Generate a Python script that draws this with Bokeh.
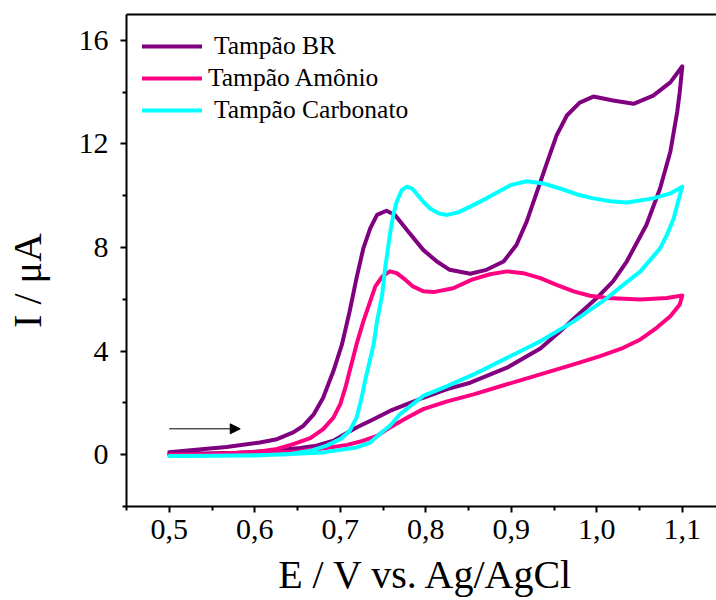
from bokeh.plotting import figure
from bokeh.models import (Range1d, FixedTicker, LinearAxis, Arrow, NormalHead,
                          Legend, LegendItem)
from bokeh.embed import file_html
from bokeh.resources import INLINE

FONT = "Liberation Serif"
NB = "\u00a0"

# ---------------- data ----------------
series_names = [" Tampão BR", "Tampão Amônio", " Tampão Carbonato"]
series_colors = ["#800080", "#FF0080", "#00FFFF"]

br_E = [0.500, 0.528, 0.567, 0.606, 0.626, 0.645, 0.657, 0.669, 0.680, 0.686, 0.692, 0.702,
        0.711, 0.719, 0.727, 0.735, 0.743, 0.754, 0.764, 0.778, 0.797, 0.813, 0.828, 0.852,
        0.871, 0.891, 0.906, 0.918, 0.930, 0.942, 0.953, 0.965, 0.980, 0.996, 1.019, 1.043,
        1.066, 1.086, 1.100,
        1.097, 1.094, 1.086, 1.074, 1.058, 1.035, 1.019, 1.000, 0.973, 0.960, 0.934, 0.895,
        0.852, 0.825, 0.797, 0.778, 0.758, 0.739, 0.719, 0.704, 0.692, 0.672, 0.653, 0.620,
        0.580, 0.500]
br_I = [0.10, 0.18, 0.30, 0.47, 0.60, 0.86, 1.12, 1.56, 2.20, 2.72, 3.23, 4.26,
        5.54, 6.82, 7.97, 8.74, 9.26, 9.42, 9.26, 8.68, 7.91, 7.46, 7.14, 6.99,
        7.14, 7.46, 8.10, 9.00, 10.15, 11.30, 12.33, 13.10, 13.60, 13.83, 13.68, 13.55,
        13.87, 14.38, 15.00,
        14.00, 13.23, 11.70, 10.28, 8.87, 7.46, 6.69, 6.05, 5.25, 4.85, 4.10, 3.36,
        2.78, 2.53, 2.20, 1.95, 1.69, 1.37, 1.05, 0.77, 0.54, 0.35, 0.26, 0.15,
        0.08, 0.02]

am_E = [0.500, 0.550, 0.600, 0.626, 0.645, 0.665, 0.680, 0.692, 0.700, 0.706, 0.711, 0.719,
        0.727, 0.735, 0.741, 0.749, 0.758, 0.766, 0.776, 0.785, 0.797, 0.809, 0.832, 0.854,
        0.875, 0.895, 0.914, 0.934, 0.953, 0.973, 0.992, 1.012, 1.051, 1.082, 1.100,
        1.097, 1.086, 1.070, 1.051, 1.031, 1.004, 0.973, 0.934, 0.895, 0.856, 0.825, 0.797,
        0.778, 0.758, 0.743, 0.727, 0.708, 0.688, 0.650, 0.600, 0.500]
am_I = [0.00, 0.03, 0.10, 0.22, 0.41, 0.64, 0.99, 1.43, 1.95, 2.59, 3.23, 4.26,
        5.15, 5.92, 6.50, 6.88, 7.08, 7.01, 6.76, 6.50, 6.31, 6.28, 6.43, 6.76,
        6.97, 7.08, 7.01, 6.82, 6.56, 6.31, 6.14, 6.05, 5.99, 6.05, 6.15,
        5.80, 5.35, 4.90, 4.45, 4.13, 3.81, 3.49, 3.10, 2.72, 2.33, 2.06, 1.76,
        1.43, 1.05, 0.73, 0.54, 0.38, 0.28, 0.12, 0.04, 0.00]

ca_E = [0.500, 0.550, 0.600, 0.640, 0.665, 0.684, 0.700, 0.711, 0.719, 0.725, 0.729, 0.739,
        0.743, 0.749, 0.752, 0.758, 0.762, 0.766, 0.772, 0.778, 0.784, 0.789, 0.797, 0.805,
        0.815, 0.825, 0.838, 0.852, 0.871, 0.899, 0.918, 0.938, 0.957, 0.977, 0.996, 1.016,
        1.035, 1.066, 1.086, 1.100,
        1.095, 1.090, 1.082, 1.074, 1.051, 1.031, 1.012, 0.973, 0.934, 0.895, 0.856, 0.825,
        0.797, 0.782, 0.770, 0.758, 0.748, 0.735, 0.719, 0.680, 0.600, 0.500]
ca_I = [-0.05, -0.04, -0.02, 0.02, 0.15, 0.35, 0.60, 0.92, 1.43, 2.20, 2.85, 4.26,
        5.15, 6.18, 7.08, 8.49, 9.26, 9.77, 10.22, 10.35, 10.28, 10.09, 9.77, 9.51,
        9.32, 9.26, 9.36, 9.58, 9.90, 10.41, 10.56, 10.47, 10.28, 10.05, 9.90, 9.79,
        9.74, 9.90, 10.09, 10.35,
        9.77, 9.13, 8.49, 7.97, 7.08, 6.56, 6.05, 5.15, 4.38, 3.74, 3.10, 2.65,
        2.27, 1.88, 1.57, 1.12, 0.85, 0.47, 0.28, 0.09, -0.03, -0.05]

x_ticks = [0.5, 0.6, 0.7, 0.8, 0.9, 1.0, 1.1]
x_tick_labels = ["0,5", "0,6", "0,7", "0,8", "0,9", "1,0", "1,1"]
x_minor = [0.45, 0.55, 0.65, 0.75, 0.85, 0.95, 1.05]
y_ticks = [0, 4, 8, 12, 16]
y_tick_labels = ["0", "4", "8", "12", "16"]
y_minor = [-2, 2, 6, 10, 14]

x_title = NB + "E / V vs. Ag/AgCl"
y_title = "I / μA" + NB * 4

arrow_E = [0.5, 0.583]
arrow_I = 1.0

# ---------------- figure ----------------
p = figure(width=716, height=600, output_backend="svg", toolbar_location=None,
           x_range=Range1d(0.45, 1.14), y_range=Range1d(-2, 17),
           min_border_left=126, min_border_right=0, min_border_top=14, min_border_bottom=94)
p.outline_line_color = None
p.xgrid.visible = False
p.ygrid.visible = False
p.background_fill_color = "white"
p.border_fill_color = "white"

def style_axis(ax, ticks, minor, labels, standoff):
    ax.ticker = FixedTicker(ticks=ticks, minor_ticks=minor)
    ax.major_label_overrides = {t: l for t, l in zip(ticks, labels)}
    ax.axis_line_width = 2
    ax.axis_line_color = "black"
    ax.major_tick_line_width = 2
    ax.minor_tick_line_width = 2
    ax.major_tick_in = 0
    ax.major_tick_out = 6
    ax.minor_tick_in = 0
    ax.minor_tick_out = 4
    ax.major_label_text_font = FONT
    ax.major_label_text_font_size = "30px"
    ax.major_label_text_color = "black"
    ax.major_label_standoff = standoff
    ax.axis_label_text_font = FONT
    ax.axis_label_text_font_size = "40px"
    ax.axis_label_text_font_style = "normal"
    ax.axis_label_text_color = "black"

style_axis(p.xaxis[0], x_ticks, x_minor, x_tick_labels, 7)
style_axis(p.yaxis[0], y_ticks, y_minor, y_tick_labels, 12)
p.xaxis[0].axis_label = x_title
p.xaxis[0].axis_label_standoff = 10
p.yaxis[0].axis_label = y_title
p.yaxis[0].axis_label_standoff = 26

top_axis = LinearAxis(ticker=FixedTicker(ticks=[]), major_label_text_font_size="0px",
                      axis_line_width=2, major_tick_line_color=None, minor_tick_line_color=None)
p.add_layout(top_axis, "above")

renderers = []
for E, I, c in [(br_E, br_I, series_colors[0]), (am_E, am_I, series_colors[1]),
                (ca_E, ca_I, series_colors[2])]:
    r = p.line(E, I, line_color=c, line_width=4, line_join="round", line_cap="round")
    renderers.append(r)

legend = Legend(items=[LegendItem(label=n, renderers=[r]) for n, r in zip(series_names, renderers)],
                location="top_left", margin=16, padding=0, spacing=0,
                glyph_width=60, glyph_height=32, label_height=32, label_standoff=6,
                label_text_font=FONT, label_text_font_size="25.5px", label_text_color="black",
                border_line_color=None, background_fill_alpha=0)
p.add_layout(legend)

p.add_layout(Arrow(x_start=arrow_E[0], y_start=arrow_I, x_end=arrow_E[1], y_end=arrow_I,
                   line_width=1, line_color="black",
                   end=NormalHead(size=10, fill_color="black", line_color="black")))

open("out.html", "w").write(file_html(p, INLINE))
